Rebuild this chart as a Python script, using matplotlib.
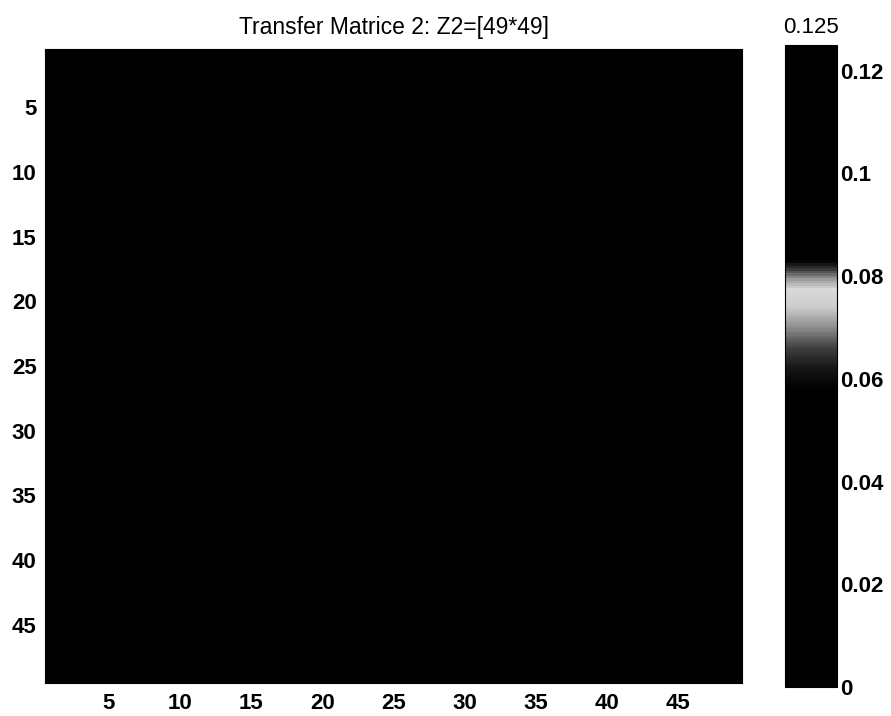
import numpy as np
import matplotlib.pyplot as plt
from matplotlib.colors import LinearSegmentedColormap

plt.rcParams['font.family'] = ['Liberation Sans', 'DejaVu Sans']

# Matrice de transfert 49x49 : toutes les cases apparaissent noires (valeur ~0)
n = 49
Z2 = np.zeros((n, n))

vmin, vmax = 0.0, 0.125
xticks = [5, 10, 15, 20, 25, 30, 35, 40, 45]
yticks = [5, 10, 15, 20, 25, 30, 35, 40, 45]
cticks = [0, 0.02, 0.04, 0.06, 0.08, 0.1, 0.12]
clabels = ['0', '0.02', '0.04', '0.06', '0.08', '0.1', '0.12']

# palette : noire partout sauf une bande claire vers 0.06-0.083
cpos = [0.0, 0.058, 0.062, 0.066, 0.070, 0.074, 0.0775, 0.0795, 0.0815, 0.083, 0.125]
cgray = [0.0, 0.0, 0.08, 0.25, 0.55, 0.8, 0.85, 0.6, 0.2, 0.0, 0.0]
cmap = LinearSegmentedColormap.from_list(
    'scan', [(p / vmax, (g, g, g)) for p, g in zip(cpos, cgray)])

fig = plt.figure(figsize=(8.91, 7.16), dpi=100)
ax = fig.add_axes([0.0505, 0.0461, 0.7823, 0.8855])
im = ax.imshow(Z2, cmap=cmap, vmin=vmin, vmax=vmax, aspect='auto',
               interpolation='nearest',
               extent=[0.5, n + 0.5, n + 0.5, 0.5])
ax.set_xticks(xticks)
ax.set_yticks(yticks)
ax.tick_params(direction='in', length=4, labelsize=16)
ax.tick_params(axis='x', pad=7)
ax.tick_params(axis='y', pad=6)
for t in ax.get_xticklabels() + ax.get_yticklabels():
    t.set_fontweight('bold')
ax.set_title('Transfer Matrice 2: Z2=[49*49]', fontsize=16.5, pad=11)

cax = fig.add_axes([0.881, 0.0405, 0.0584, 0.8966])
cb = fig.colorbar(im, cax=cax, ticks=cticks)
cb.ax.set_yticklabels(clabels)
cb.ax.tick_params(direction='in', length=0, labelsize=16, pad=2)
for t in cb.ax.get_yticklabels():
    t.set_fontweight('bold')
cb.ax.set_title('0.125', fontsize=16, pad=9)

fig.savefig('out.png', dpi=100)
